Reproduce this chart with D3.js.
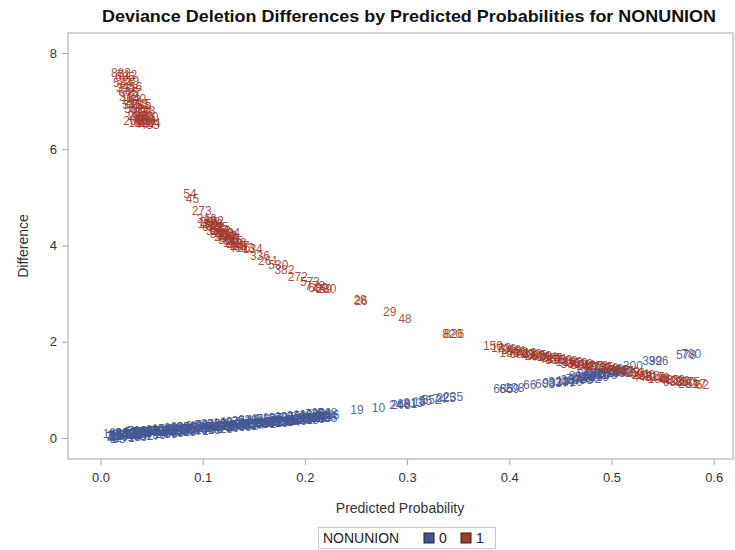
<!DOCTYPE html>
<html>
<head>
<meta charset="utf-8">
<script src="https://cdn.jsdelivr.net/npm/d3@7"></script>
<style>
  body { margin: 0; background: #fff; }
  svg text { font-family: "Liberation Sans", Arial, sans-serif; }
  .axes path, .axes line { stroke: #a8a8a8; }
  .axes text { fill: #333; font-size: 13px; }
</style>
</head>
<body>
<div id="canvas"></div>
<script>
// DATA: NONUNION = 0 (blue) observations
const blueX = [0.008, 0.011, 0.013, 0.015, 0.017, 0.019, 0.021, 0.023, 0.025, 0.027, 0.029, 0.031, 0.033, 0.035,
  0.037, 0.039, 0.041, 0.043, 0.045, 0.047, 0.050, 0.053, 0.056, 0.059, 0.062, 0.065, 0.068, 0.071, 0.074, 0.077,
  0.080, 0.083, 0.086, 0.089, 0.092, 0.095, 0.098, 0.101, 0.104, 0.107, 0.110, 0.113, 0.116, 0.119, 0.122, 0.125,
  0.128, 0.131, 0.134, 0.137, 0.140, 0.143, 0.146, 0.149, 0.152, 0.155, 0.158, 0.161, 0.164, 0.167, 0.170, 0.173,
  0.176, 0.179, 0.182, 0.185, 0.188, 0.191, 0.194, 0.197, 0.200, 0.203, 0.206, 0.209, 0.212, 0.215, 0.218, 0.221, 0.224,
  0.012, 0.018, 0.024, 0.030, 0.036, 0.042, 0.048, 0.054, 0.060, 0.066, 0.072, 0.078, 0.084, 0.090, 0.096, 0.102,
  0.108, 0.114, 0.120, 0.126, 0.132, 0.138, 0.144, 0.150, 0.156, 0.162, 0.168, 0.174, 0.180, 0.186, 0.192, 0.198,
  0.204, 0.210, 0.216, 0.222,
  0.012, 0.018, 0.024, 0.030, 0.036, 0.042, 0.048, 0.054, 0.060, 0.066, 0.072, 0.078, 0.084, 0.090, 0.096, 0.102,
  0.108, 0.114, 0.120, 0.126, 0.132, 0.138, 0.144, 0.150, 0.156, 0.162, 0.168, 0.174, 0.180, 0.186, 0.192, 0.198,
  0.204, 0.210, 0.216, 0.222,
  0.251, 0.272, 0.289, 0.294, 0.300, 0.306, 0.312, 0.318, 0.324, 0.332, 0.338, 0.345,
  0.394, 0.400, 0.405, 0.420, 0.435, 0.442, 0.448, 0.455, 0.460, 0.465, 0.470, 0.474, 0.478, 0.482, 0.486, 0.490,
  0.494, 0.498, 0.502, 0.506, 0.510, 0.468, 0.476, 0.484, 0.492, 0.500, 0.480, 0.488, 0.496, 0.504, 0.512, 0.472,
  0.455, 0.462, 0.521, 0.540, 0.546, 0.573, 0.578];
const blueY = [0.03, 0.02, 0.05, 0.04, 0.06, 0.05, 0.07, 0.06, 0.08, 0.07, 0.09, 0.08, 0.10, 0.09,
  0.11, 0.10, 0.12, 0.11, 0.13, 0.12, 0.14, 0.13, 0.15, 0.14, 0.16, 0.15, 0.17, 0.16, 0.18, 0.17,
  0.19, 0.18, 0.20, 0.19, 0.21, 0.20, 0.22, 0.21, 0.23, 0.22, 0.24, 0.23, 0.25, 0.24, 0.26, 0.25,
  0.27, 0.26, 0.28, 0.27, 0.29, 0.28, 0.30, 0.29, 0.31, 0.30, 0.32, 0.31, 0.33, 0.32, 0.34, 0.33,
  0.35, 0.34, 0.36, 0.35, 0.37, 0.38, 0.39, 0.38, 0.40, 0.41, 0.42, 0.41, 0.43, 0.44, 0.45, 0.46, 0.48,
  0.09, 0.10, 0.11, 0.13, 0.14, 0.15, 0.16, 0.18, 0.19, 0.20, 0.21, 0.23, 0.24, 0.25, 0.26, 0.28,
  0.29, 0.30, 0.31, 0.33, 0.34, 0.35, 0.37, 0.38, 0.39, 0.40, 0.42, 0.43, 0.44, 0.45, 0.47, 0.48,
  0.49, 0.50, 0.52, 0.53,
  -0.02, -0.01, 0.00, 0.02, 0.03, 0.04, 0.05, 0.07, 0.08, 0.09, 0.10, 0.12, 0.13, 0.14, 0.15, 0.17,
  0.18, 0.19, 0.20, 0.22, 0.23, 0.24, 0.26, 0.27, 0.28, 0.29, 0.31, 0.32, 0.33, 0.34, 0.36, 0.37,
  0.38, 0.39, 0.41, 0.42,
  0.58, 0.62, 0.68, 0.70, 0.72, 0.74, 0.76, 0.78, 0.80, 0.82, 0.84, 0.86,
  1.02, 1.03, 1.04, 1.10, 1.13, 1.15, 1.17, 1.19, 1.21, 1.23, 1.25, 1.27, 1.28, 1.30, 1.31, 1.33,
  1.35, 1.36, 1.38, 1.40, 1.41, 1.30, 1.33, 1.36, 1.39, 1.42, 1.24, 1.28, 1.31, 1.35, 1.37, 1.20,
  1.15, 1.17, 1.50, 1.60, 1.60, 1.73, 1.74];
const blueLabel = ["7", "2", "31", "88", "204", "117", "356", "45", "612", "290", "73", "501", "188", "430",
  "66", "725", "311", "92", "254", "840", "17", "409", "563", "131", "278", "702", "39", "385", "616", "222",
  "457", "809", "95", "330", "674", "148", "519", "263", "786", "54", "401", "637", "199", "472", "815", "28",
  "346", "590", "163", "728", "302", "481", "77", "655", "214", "538", "369", "843", "126", "447", "691", "235",
  "572", "318", "799", "61", "424", "607", "183", "536", "277", "750", "392", "115", "668", "243", "511", "374", "826",
  "146", "623", "380", "57", "712", "294", "468", "831", "105", "547", "226", "693", "358", "81", "429", "764",
  "212", "585", "136", "407", "874", "251", "639", "18", "496", "723", "167", "340", "601", "278", "853", "119",
  "462", "735", "296", "548",
  "5", "83", "271", "644", "139", "502", "317", "786", "24", "455", "698", "162", "533", "307", "871", "240",
  "615", "93", "428", "759", "184", "566", "331", "807", "47", "492", "265", "718", "150", "604", "386", "841",
  "213", "579", "129", "436",
  "19", "10", "24", "248", "681", "813", "13", "55", "552", "74", "225", "235",
  "685", "669", "208", "66", "603", "903", "320", "114", "387", "742", "259", "518", "96", "634", "281", "457",
  "170", "823", "339", "605", "46", "812", "263", "590", "471", "138", "652", "219", "706", "143", "588", "305",
  "777", "410", "300", "392", "396", "578", "780"];

// DATA: NONUNION = 1 (red) observations
const redX = [0.020, 0.024, 0.022, 0.025, 0.027, 0.028, 0.030, 0.031, 0.033, 0.035, 0.036, 0.038, 0.040, 0.042,
  0.045, 0.032, 0.048, 0.037, 0.043, 0.026, 0.028, 0.031, 0.033, 0.035, 0.037, 0.039, 0.041, 0.043, 0.046,
  0.049, 0.047, 0.044, 0.040,
  0.0876, 0.090, 0.099, 0.104, 0.107, 0.110, 0.112, 0.114, 0.116, 0.118, 0.120, 0.122, 0.124, 0.126, 0.128,
  0.130, 0.133, 0.136, 0.141, 0.149, 0.156, 0.164, 0.174, 0.180, 0.193, 0.205, 0.210, 0.213, 0.217, 0.221,
  0.105, 0.109, 0.113, 0.117, 0.121, 0.125, 0.129, 0.133, 0.137, 0.111, 0.119, 0.127,
  0.254, 0.255, 0.283, 0.298, 0.344, 0.346,
  0.384, 0.392, 0.397, 0.402, 0.407, 0.412, 0.417, 0.422, 0.427, 0.432, 0.437, 0.442, 0.447, 0.452, 0.457, 0.462,
  0.467, 0.472, 0.477, 0.482, 0.487, 0.492, 0.497, 0.502, 0.507, 0.512, 0.518, 0.523, 0.528, 0.533, 0.537, 0.542,
  0.547, 0.552, 0.557, 0.562, 0.567, 0.572, 0.577, 0.583, 0.589, 0.415, 0.430, 0.445, 0.460, 0.475,
  0.400, 0.410, 0.425, 0.440, 0.455, 0.470, 0.485, 0.530, 0.545, 0.560, 0.575];
const redY = [7.58, 7.50, 7.38, 7.28, 7.20, 7.10, 7.02, 6.93, 6.85, 6.78, 6.70, 6.65, 6.60, 6.55,
  6.52, 6.60, 6.50, 6.55, 6.62, 7.55, 7.42, 7.30, 7.18, 7.05, 6.95, 6.85, 6.75, 6.68, 6.60,
  6.55, 6.68, 6.80, 6.95,
  5.07, 4.98, 4.72, 4.55, 4.50, 4.45, 4.40, 4.37, 4.33, 4.30, 4.27, 4.23, 4.20, 4.17, 4.14,
  4.10, 4.05, 4.00, 3.95, 3.93, 3.78, 3.68, 3.60, 3.49, 3.35, 3.24, 3.17, 3.12, 3.11, 3.10,
  4.45, 4.38, 4.30, 4.25, 4.18, 4.12, 4.06, 4.00, 3.95, 4.52, 4.38, 4.26,
  2.87, 2.86, 2.62, 2.47, 2.16, 2.16,
  1.91, 1.87, 1.85, 1.83, 1.81, 1.79, 1.77, 1.75, 1.73, 1.71, 1.69, 1.67, 1.65, 1.63, 1.61, 1.59,
  1.57, 1.55, 1.53, 1.51, 1.49, 1.47, 1.45, 1.43, 1.41, 1.39, 1.37, 1.35, 1.33, 1.31, 1.29, 1.27,
  1.25, 1.23, 1.21, 1.20, 1.18, 1.17, 1.16, 1.13, 1.10, 1.74, 1.68, 1.62, 1.55, 1.50,
  1.78, 1.74, 1.70, 1.64, 1.58, 1.52, 1.46, 1.28, 1.22, 1.17, 1.13];
const redLabel = ["882", "685", "584", "331", "665", "318", "142", "346", "501", "708", "227", "464", "90", "612",
  "777", "203", "433", "159", "680", "712", "219", "456", "87", "640", "313", "528", "175", "802", "391",
  "264", "510", "128", "745",
  "54", "45", "273", "316", "208", "386", "521", "97", "644", "152", "710", "438", "283", "569", "36",
  "815", "492", "147", "613", "134", "336", "261", "530", "382", "272", "573", "772", "680", "459", "280",
  "190", "672", "335", "801", "247", "566", "119", "483", "706", "392", "55", "624",
  "28", "26", "29", "48", "820", "826",
  "150", "183", "706", "249", "561", "93", "418", "672", "305", "829", "144", "587", "231", "760", "402", "102",
  "359", "618", "84", "497", "266", "735", "178", "543", "312", "867", "429", "253", "691", "140", "582", "317",
  "746", "41", "483", "609", "222", "860", "375", "517", "62", "729", "466", "815", "330", "211",
  "158", "603", "287", "744", "136", "598", "372", "445", "190", "633", "281"];

// tick values
const xTicks = [0.0, 0.1, 0.2, 0.3, 0.4, 0.5, 0.6];
const yTicks = [0, 2, 4, 6, 8];
const groups = ["0", "1"];

function drawGraph() {

    // DIMENSIONS
    const width = 735;
    const height = 550;
    const frame = { left: 68, top: 33, right: 733, bottom: 459 };

    const colors = { "0": "#445694", "1": "#a23a2e" };

    // CANVAS
    var canvas = d3.select("#canvas")
        .append("svg")
        .attr("width", width)
        .attr("height", height);

    // TITLE
    canvas.append("text")
        .attr("x", 409)
        .attr("y", 22)
        .attr("text-anchor", "middle")
        .attr("textLength", 614)
        .attr("lengthAdjust", "spacingAndGlyphs")
        .style("font-size", "17px")
        .style("font-weight", "bold")
        .style("fill", "#111")
        .text("Deviance Deletion Differences by Predicted Probabilities for NONUNION");

    // SCALES
    let xScale = d3.scaleLinear()
        .domain([0, 0.6])
        .range([100.5, 713.7]);

    let yScale = d3.scaleLinear()
        .domain([0, 8])
        .range([438, 53]);

    // FRAME
    canvas.append("rect")
        .attr("x", frame.left)
        .attr("y", frame.top)
        .attr("width", frame.right - frame.left)
        .attr("height", frame.bottom - frame.top)
        .style("fill", "none")
        .style("stroke", "#a8a8a8");

    // AXES
    let xAx = d3.axisBottom(xScale).tickValues(xTicks).tickFormat(d3.format(".1f"))
        .tickSizeInner(6).tickSizeOuter(0).tickPadding(8);
    let yAx = d3.axisLeft(yScale).tickValues(yTicks).tickFormat(d3.format("d"))
        .tickSizeInner(6).tickSizeOuter(0).tickPadding(5);

    let xaxis = canvas.append("g")
        .attr("class", "axes")
        .attr("transform", `translate(0, ${frame.bottom})`)
        .call(xAx);
    xaxis.select(".domain").remove();

    let yaxis = canvas.append("g")
        .attr("class", "axes")
        .attr("transform", `translate(${frame.left}, 0)`)
        .call(yAx);
    yaxis.select(".domain").remove();

    // LABELS
    canvas.append("text")
        .attr("x", 400)
        .attr("y", 513)
        .attr("text-anchor", "middle")
        .style("font-size", "14px")
        .style("fill", "#333")
        .text("Predicted Probability");

    canvas.append("text")
        .attr("transform", "translate(28, 246) rotate(-90)")
        .attr("text-anchor", "middle")
        .style("font-size", "14px")
        .style("fill", "#333")
        .text("Difference");

    // POINTS (observation numbers as markers)
    let plot = canvas.append("g");

    function drawLabels(xs, ys, labels, group) {
        plot.append("g")
            .selectAll("text")
            .data(labels.map((l, i) => ({ x: xs[i], y: ys[i], label: l })))
            .enter()
            .append("text")
            .attr("x", d => xScale(d.x))
            .attr("y", d => yScale(d.y))
            .attr("dy", "0.35em")
            .attr("text-anchor", "middle")
            .style("font-size", "12px")
            .style("fill", colors[group])
            .style("fill-opacity", 0.9)
            .text(d => d.label);
    }

    drawLabels(blueX, blueY, blueLabel, "0");
    drawLabels(redX, redY, redLabel, "1");

    // LEGEND
    let legend = canvas.append("g");
    legend.append("rect")
        .attr("x", 318.5).attr("y", 527.5)
        .attr("width", 177).attr("height", 21)
        .style("fill", "#fff")
        .style("stroke", "#c8c8c8");
    legend.append("text")
        .attr("x", 323).attr("y", 543)
        .style("font-size", "14px")
        .style("fill", "#222")
        .text("NONUNION");

    let legendX = d3.scaleOrdinal().domain(groups).range([424, 461]);
    groups.forEach(g => {
        legend.append("rect")
            .attr("x", legendX(g)).attr("y", 533)
            .attr("width", 10).attr("height", 10)
            .style("fill", colors[g])
            .style("stroke", "#222");
        legend.append("text")
            .attr("x", legendX(g) + 15).attr("y", 543)
            .style("font-size", "14px")
            .style("fill", "#222")
            .text(g);
    });
}

drawGraph();
</script>
</body>
</html>
